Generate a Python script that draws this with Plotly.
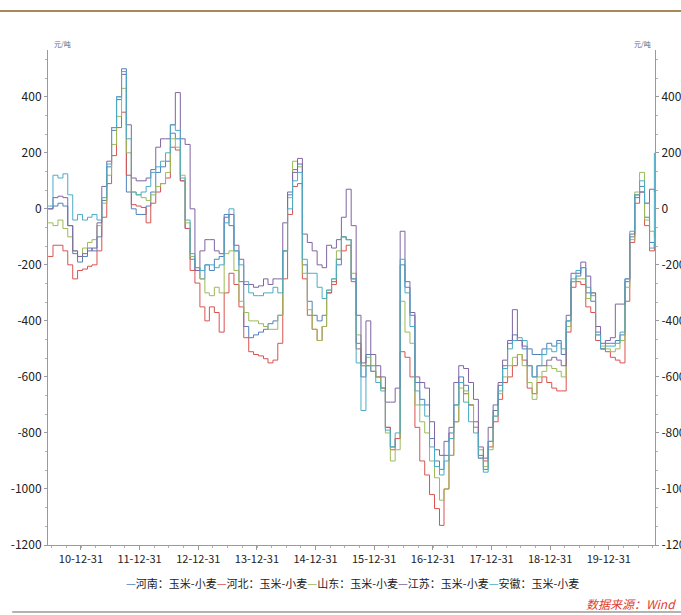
import pandas as pd
import plotly.graph_objects as go

# Monthly observations, 2010-06 .. 2020-10, 元/吨
dates = pd.date_range("2010-06-01", periods=125, freq="MS") + pd.Timedelta(days=9)

henan = [0, 10, 20, 10, -60, -160, -190, -170, -140, -150,
         -100, 30, 150, 280, 390, 500, 60, 0, -20, -20,
         10, 60, 130, 150, 170, 270, 250, 100, -70, -180,
         -220, -250, -200, -220, -180, -170, -20, -60, -150, -260,
         -420, -460, -450, -440, -430, -410, -400, -380, -150, 50,
         140, 160, -200, -330, -380, -400, -380, -300, -260, -200,
         -100, -110, -250, -480, -600, -520, -560, -600, -640, -780,
         -850, -820, -200, -280, -380, -620, -680, -700, -820, -900,
         -930, -880, -800, -700, -600, -630, -700, -780, -880, -930,
         -830, -720, -630, -560, -480, -450, -470, -500, -500, -520,
         -520, -500, -480, -490, -470, -520, -400, -260, -240, -210,
         -300, -330, -440, -500, -480, -480, -470, -450, -260, -100,
         40, 80, -30, -120, -140]

hebei = [-170, -130, -130, -150, -200, -250, -220, -215, -205, -200,
         -150, -30, 90, 190, 290, 345, 120, 15, 10, 5,
         -50, 20, 60, 90, 110, 220, 210, 100, -70, -220,
         -265, -350, -400, -350, -370, -440, -300, -230, -270, -350,
         -460, -510, -520, -525, -535, -550, -540, -480, -250, -20,
         80, 90, -250, -380, -430, -470, -420, -300, -270, -180,
         -150, -130, -260, -500, -560, -560, -580, -600, -640, -780,
         -860, -820, -510, -530, -600, -780, -900, -950, -1020, -1070,
         -1130, -1000, -880, -760, -620, -660, -700, -760, -890, -900,
         -850, -760, -680, -620, -600, -560, -520, -540, -640, -660,
         -620, -600, -620, -640, -650, -650, -440, -280, -260, -270,
         -350, -370, -470, -500, -510, -530, -540, -550, -330, -120,
         20, 60, -60, -150, -130]

shandong = [-50, -60, -40, -70, -100, -150, -170, -140, -120, -110,
            -60, 20, 120, 230, 330, 430, 200, 60, 50, 40,
            30, 50, 80, 90, 130, 250, 220, 120, -50, -170,
            -210, -250, -300, -310, -280, -300, -160, -150, -220, -330,
            -370, -400, -400, -410, -420, -430, -430, -380, -150, 40,
            170, 150, -230, -360, -430, -470, -420, -290, -250, -150,
            -100, -110, -230, -450, -560, -530, -560, -600, -640, -800,
            -900, -860, -330, -440, -480, -700, -760, -800, -900, -960,
            -1040, -1000, -880, -760, -640, -650, -700, -780, -860, -920,
            -860, -740, -660, -600, -560, -530, -520, -560, -620, -680,
            -600, -580, -560, -570, -580, -600, -420, -260, -250, -250,
            -320, -300, -450, -490, -500, -510, -500, -470, -280, -110,
            60, 130, -40, -80, -100]

jiangsu = [0, 40, 45, 40, -60, -150, -170, -160, -150, -140,
           -50, 80, 170, 290, 400, 480, 300, 110, 100, 100,
           110, 140, 220, 250, 250, 300, 415, 250, 230, 0,
           -220, -150, -110, -110, -150, -160, -30, -20, -130, -180,
           -270, -270, -280, -275, -250, -270, -250, -250, -50, 60,
           130, 180, -90, -120, -150, -200, -210, -130, -140, -110,
           -30, 70, -60, -380, -550, -400, -520, -560, -600, -690,
           -690, -640, -80, -260, -370, -600, -620, -640, -760, -860,
           -880, -830, -780, -620, -560, -570, -620, -680, -850, -890,
           -780, -700, -620, -540, -470, -360, -470, -490, -560, -600,
           -560, -560, -540, -530, -540, -560, -380, -230, -230, -190,
           -240, -300, -420, -480, -470, -460, -340, -340, -250, -90,
           50, 60, 20, 70, 60]

anhui = [10, 120, 110, 125, 50, -40, -20, -40, -30, -20,
         -40, 40, 160, 290, 400, 490, 250, 60, 50, 60,
         80, 130, 150, 170, 200, 300, 280, 110, -40, -160,
         -210, -220, -200, -200, -210, -200, -50, 0, -150, -200,
         -260, -300, -310, -310, -300, -300, -280, -300, -150, 0,
         100, 130, -180, -230, -230, -280, -320, -290, -250, -180,
         -100, -110, -250, -550, -720, -560, -580, -620, -650, -790,
         -850, -800, -180, -300, -420, -650, -700, -740, -850, -920,
         -950, -900, -820, -700, -620, -690, -760, -800, -890, -940,
         -830, -740, -650, -570, -500, -470, -460, -470, -560, -600,
         -560, -520, -500, -510, -480, -500, -400, -250, -220, -210,
         -280, -310, -450, -500, -490, -490, -480, -440, -250, -80,
         50, 100, 20, -140, 200]

series_names = ["河南：玉米-小麦", "河北：玉米-小麦", "山东：玉米-小麦", "江苏：玉米-小麦", "安徽：玉米-小麦"]
series_values = [henan, hebei, shandong, jiangsu, anhui]
colors = ["#4F81BD", "#D9534F", "#9BBB59", "#8064A2", "#4BACC6"]

x_tick_dates = ["2010-12-31", "2011-12-31", "2012-12-31", "2013-12-31", "2014-12-31",
                "2015-12-31", "2016-12-31", "2017-12-31", "2018-12-31", "2019-12-31"]
x_tick_labels = ["10-12-31", "11-12-31", "12-12-31", "13-12-31", "14-12-31",
                 "15-12-31", "16-12-31", "17-12-31", "18-12-31", "19-12-31"]
y_ticks = [-1200, -1000, -800, -600, -400, -200, 0, 200, 400]

FONT = "Noto Sans CJK SC"

fig = go.Figure()
for i, (name, vals, col) in enumerate(zip(series_names, series_values, colors)):
    fig.add_trace(go.Scatter(
        x=dates, y=vals, name=name, mode="lines",
        line=dict(color=col, width=1, shape="hv"),
        yaxis="y2" if i == 4 else "y",
        showlegend=False, hoverinfo="skip"))

yaxis_common = dict(
    range=[-1200, 567], tickvals=y_ticks, ticktext=[str(v) for v in y_ticks],
    showgrid=False, zeroline=False, showline=True, linecolor="#9a9a9a", linewidth=1,
    ticks="outside", ticklen=3, tickcolor="#9a9a9a", automargin=False,
    minor=dict(dtick=200 / 3, tick0=-1200, ticks="outside", ticklen=2, tickcolor="#b0b0b0"),
    tickfont=dict(family=FONT, size=12, color="#222"),
)

fig.update_layout(
    width=681, height=615, autosize=False,
    margin=dict(l=48, r=26, t=50, b=70),
    paper_bgcolor="white", plot_bgcolor="white",
    font=dict(family=FONT),
    xaxis=dict(
        range=["2010-06-09", "2020-10-14"],
        tickvals=x_tick_dates, ticktext=x_tick_labels, automargin=False,
        showgrid=False, zeroline=False, showline=True, linecolor="#9a9a9a", linewidth=1,
        ticks="outside", ticklen=4, tickcolor="#9a9a9a",
        minor=dict(dtick="M3", ticks="outside", ticklen=2, tickcolor="#b0b0b0"),
        tickfont=dict(family=FONT, size=11, color="#222"),
    ),
    yaxis=dict(**yaxis_common),
    yaxis2=dict(**yaxis_common, overlaying="y", side="right", matches="y"),
)

# legend built as a single text line with coloured dashes
legend_html = "".join(
    f'<span style="color:{c}">—</span>{n}' for n, c in zip(series_names, colors))
annotations = [
    dict(text=legend_html, x=0.501, y=-0.077, xref="paper", yref="paper",
         xanchor="center", yanchor="middle", showarrow=False,
         font=dict(family=FONT, size=11, color="#222")),
    dict(text="<i>数据来源：Wind</i>", x=1.038, y=-0.119, xref="paper", yref="paper",
         xanchor="right", yanchor="middle", showarrow=False,
         font=dict(family=FONT, size=12, color="#E03C31")),
    dict(text="元/吨", x=0.007, y=1.012, xref="paper", yref="paper",
         xanchor="left", yanchor="middle", showarrow=False,
         font=dict(family=FONT, size=7, color="#666")),
    dict(text="元/吨", x=0.996, y=1.012, xref="paper", yref="paper",
         xanchor="right", yanchor="middle", showarrow=False,
         font=dict(family=FONT, size=7, color="#666")),
]
fig.update_layout(annotations=annotations)

fig.update_layout(shapes=[
    dict(type="line", xref="paper", yref="paper", x0=-0.08, x1=1.05, y0=1.0788, y1=1.0788,
         line=dict(color="#A8895A", width=2)),
    dict(type="line", xref="paper", yref="paper", x0=-0.059, x1=1.05, y0=-0.1354, y1=-0.1354,
         line=dict(color="#9a9a9a", width=1.5)),
])

post_js = (
    "document.documentElement.style.overflow='hidden';"
    "document.body.style.margin='0';document.body.style.overflow='hidden';"
)

fig.write_html(
    "out.html",
    config={"responsive": False, "displayModeBar": False},
    post_script=post_js,
)
